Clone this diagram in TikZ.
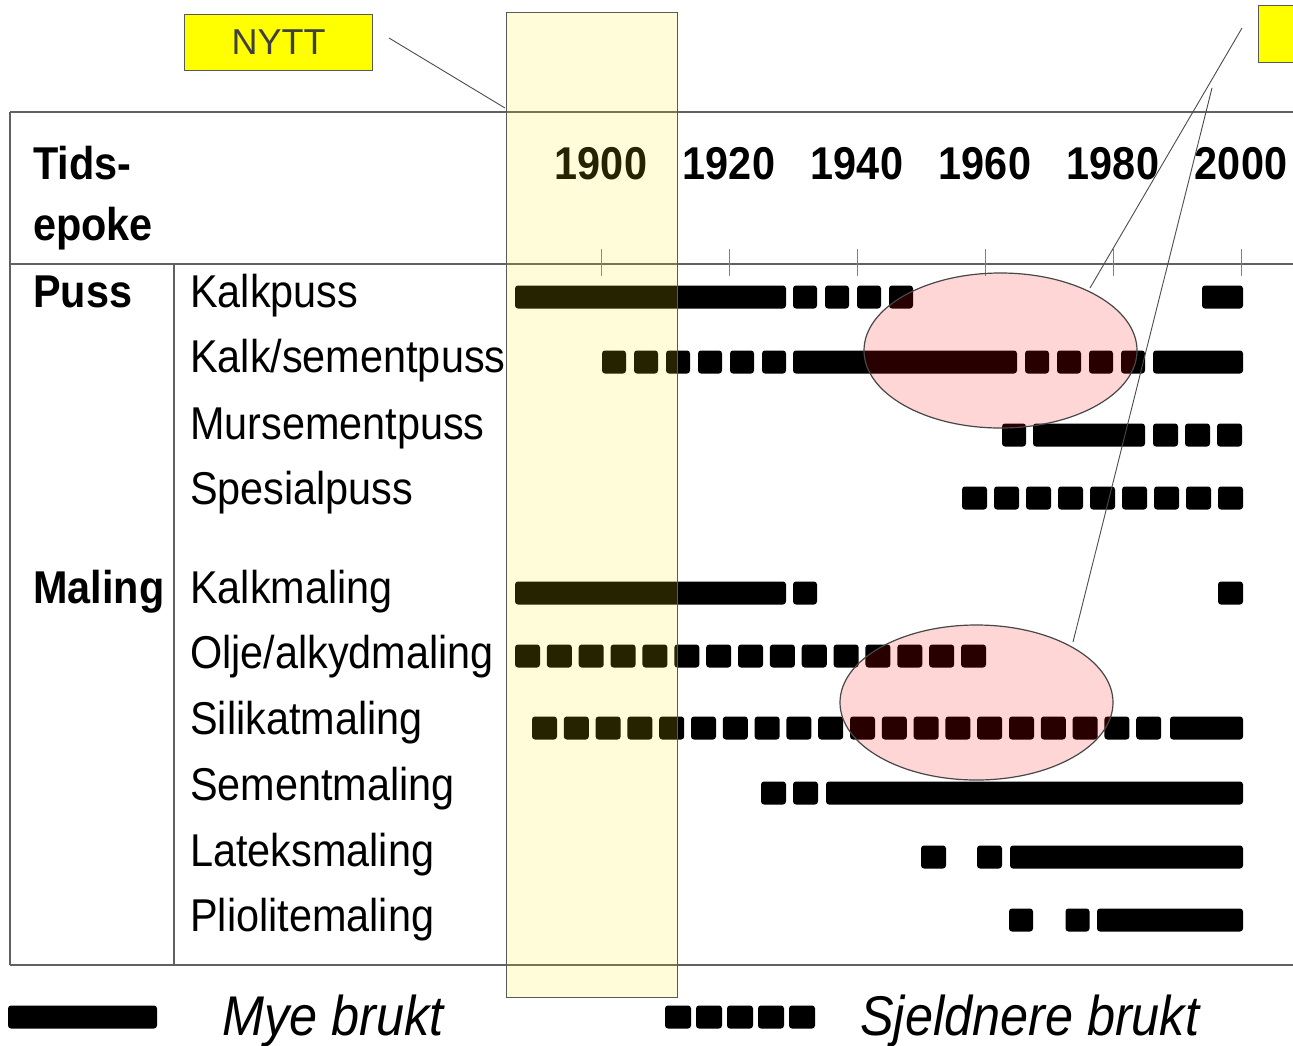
\documentclass[tikz,border=0pt]{standalone}
\usepackage{fontspec}
\setmainfont{Liberation Sans}
\newfontfamily\condf[FakeStretch=0.9]{Liberation Sans}
\usetikzlibrary{shapes.geometric}
\newcommand\solidseg[3]{\fill[barfill] (#1,#3-11.5) rectangle (#2,#3+11.5);}
\newcommand\dashseg[5]{\foreach \k in {0,...,#3}{\fill[barfill] ({#1+#2*\k},#5-11.5) rectangle ++(#4,23);}}
\begin{document}
\begin{tikzpicture}[x=1pt,y=-1pt,
  rule/.style={draw=black!62, line width=1.8pt},
  tickmark/.style={draw=black!50, line width=1pt},
  barfill/.style={fill=black, rounded corners=3pt},
  lbl/.style={anchor=base west, inner sep=0pt, font=\condf\fontsize{46}{52}\selectfont},
  hdr/.style={anchor=base west, inner sep=0pt, font=\condf\fontsize{46}{52}\selectfont\bfseries},
  yearlbl/.style={anchor=base, inner sep=0pt, font=\condf\fontsize{46}{52}\selectfont\bfseries},
  legtxt/.style={anchor=base west, inner sep=0pt, font=\condf\fontsize{56}{62}\selectfont\itshape},
  callout/.style={draw=black!70, line width=0.9pt},
  tag/.style={draw=black!65, line width=1.2pt, fill={rgb,255:red,255;green,255;blue,0}},
  hilite/.style={ellipse, draw=black!72, line width=1.2pt, fill=red, fill opacity=0.16, inner sep=0pt, minimum width=273pt, minimum height=155pt}
]
\clip (0,0) rectangle (1293,1045);
\fill[white] (0,0) rectangle (1293,1045);

% table rules
\draw[rule] (10,112) -- (1293,112);
\draw[rule] (10,112) -- (10,965);
\draw[rule] (10,264) -- (1293,264);
\draw[rule] (174,264) -- (174,965);
\draw[rule] (10,965) -- (1293,965);

% ticks and years
\foreach \i/\yr in {0/1900,1/1920,2/1940,3/1960,4/1980,5/2000}{
  \draw[tickmark] ({601+128*\i},249) -- ({601+128*\i},276);
  \node[yearlbl] (y\yr) at ({601+128*\i},179) {\yr};
}

% header texts
\node[hdr] (tids) at (33,179) {Tids-};
\node[hdr] (epoke) at (33,240) {epoke};
\node[hdr] (puss) at (33,307) {Puss};
\node[hdr] (maling) at (33,603) {Maling};

% row labels
\node[lbl] (r1) at (190,307) {Kalkpuss};
\node[lbl] (r2) at (190,372) {Kalk/sementpuss};
\node[lbl] (r3) at (190,439) {Mursementpuss};
\node[lbl] (r4) at (190,504) {Spesialpuss};
\node[lbl] (r5) at (190,603) {Kalkmaling};
\node[lbl] (r6) at (190,668) {Olje/alkydmaling};
\node[lbl] (r7) at (190,734) {Silikatmaling};
\node[lbl] (r8) at (190,800) {Sementmaling};
\node[lbl] (r9) at (190,866) {Lateksmaling};
\node[lbl] (r10) at (190,931) {Pliolitemaling};

% bars
% Kalkpuss
\solidseg{515}{786}{297}
\dashseg{793}{32}{3}{24}{297}
\solidseg{1202}{1243}{297}
% Kalk/sementpuss
\dashseg{602}{32}{5}{24}{362}
\solidseg{793}{1017}{362}
\dashseg{1025}{32}{3}{24}{362}
\solidseg{1153}{1243}{362}
% Mursementpuss
\dashseg{1002}{32}{0}{24}{435}
\solidseg{1033}{1145}{435}
\dashseg{1153}{32}{2}{25}{435}
% Spesialpuss
\dashseg{962}{32}{8}{25}{498}
% Kalkmaling
\solidseg{515}{786}{593}
\dashseg{793}{32}{0}{24}{593}
\dashseg{1218}{32}{0}{25}{593}
% Olje/alkydmaling
\dashseg{515}{31.86}{14}{25}{656}
% Silikatmaling
\dashseg{532}{31.8}{19}{25}{728}
\solidseg{1170}{1243}{728}
% Sementmaling
\dashseg{761}{32}{1}{25}{793}
\solidseg{826}{1243}{793}
% Lateksmaling
\dashseg{921}{56}{1}{25}{857}
\solidseg{1010}{1243}{857}
% Pliolitemaling
\dashseg{1009}{56.5}{1}{24}{920}
\solidseg{1097}{1243}{920}

% legend
\solidseg{8}{157}{1017}
\node[legtxt] (mye) at (222,1035) {Mye brukt};
\dashseg{665}{31}{4}{26}{1017}
\node[legtxt] (sjeld) at (860,1035) {Sjeldnere brukt};

% NYTT highlight band
\node[draw=black!65, line width=1.2pt, fill=yellow, fill opacity=0.15, inner sep=0pt,
      minimum width=171pt, minimum height=985pt, anchor=north west] (band) at (506,12) {};

% ellipses
\node[hilite] (e1) at (1000.5,350.5) {};
\node[hilite] (e2) at (976.5,702.5) {};

% tags
\node[tag, inner sep=0pt, minimum width=188pt, minimum height=56pt, anchor=north west,
      font=\fontsize{36}{40}\selectfont, text=black!75] (nytt) at (184,14) {NYTT};
\node[tag, inner sep=0pt, minimum width=60pt, minimum height=57pt, anchor=north west] (tag2) at (1258,5) {};

% callout lines
\coordinate (n1) at (389,38);
\coordinate (n2) at (505,108);
\draw[callout] (n1) -- (n2);
\coordinate (t1) at (1242,28);
\coordinate (t1e) at (1090,288);
\draw[callout] (t1) -- (t1e);
\coordinate (t2) at (1212,88);
\coordinate (t2e) at (1073,642);
\draw[callout] (t2) -- (t2e);
\end{tikzpicture}
\end{document}
